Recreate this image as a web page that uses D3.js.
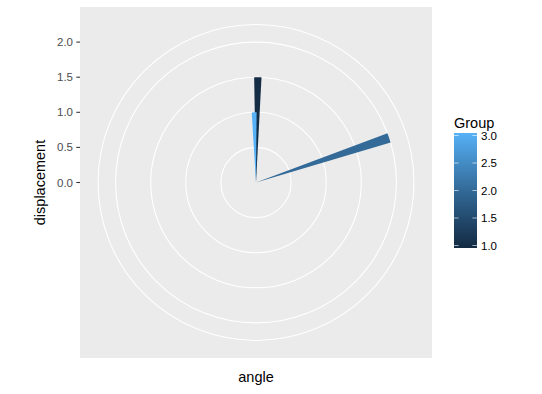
<!DOCTYPE html>
<html>
<head>
<meta charset="utf-8">
<script src="https://cdn.jsdelivr.net/npm/d3@7"></script>
<style>
  body { margin: 0; background: #fff; }
  text { font-family: "Liberation Sans", Arial, sans-serif; }
</style>
</head>
<body>
<script>
// data
const groups = [1, 2, 3]
const angles = [1, 71.5, 358.5]        // degrees, centre of each bar
const displacement = [1.5, 2.0, 1.0]
const BAR_WIDTH = 4                     // degrees
const rTicks = [0, 0.5, 1.0, 1.5, 2.0]
const legendTicks = [1.0, 1.5, 2.0, 2.5, 3.0]

const W = 542, H = 394
const PANEL = { x: 80, y: 7, w: 352, h: 351 }
const size = Math.min(PANEL.w, PANEL.h)
const cx = PANEL.x + PANEL.w / 2, cy = PANEL.y + PANEL.h / 2

let svg = d3.select('body').append('svg')
  .attr('width', W).attr('height', H)

// scales
let theta = d3.scaleLinear().domain([0, 360]).range([0, 2 * Math.PI])
let r = d3.scaleLinear().domain([0, 2]).range([0, 0.4 * size])
let fill = d3.scaleLinear().domain([1, 3]).range(['#132B43', '#56B1F7'])
  .interpolate(d3.interpolateLab)

// panel
svg.append('rect')
  .attr('x', PANEL.x).attr('y', PANEL.y)
  .attr('width', PANEL.w).attr('height', PANEL.h)
  .attr('fill', '#EBEBEB')

let g = svg.append('g').attr('transform', 'translate(' + [cx, cy] + ')')

// radial grid (r breaks + outer ring at 0.45)
let rings = rTicks.map(r).concat([0.45 * size])
g.selectAll('.ring').data(rings).enter().append('circle')
  .attr('class', 'ring')
  .attr('r', d => d)
  .attr('fill', 'none')
  .attr('stroke', '#fff')
  .attr('stroke-width', 1.07)

// bars
let arc = d3.arc()
  .innerRadius(0)
  .outerRadius(i => r(displacement[i]))
  .startAngle(i => theta(angles[i] - BAR_WIDTH / 2))
  .endAngle(i => theta(angles[i] + BAR_WIDTH / 2))

g.selectAll('.bar').data(d3.range(groups.length)).enter().append('path')
  .attr('class', 'bar')
  .attr('d', arc)
  .attr('fill', i => fill(groups[i]))

// r axis on the left
let yAxis = svg.append('g')
yAxis.selectAll('line').data(rTicks).enter().append('line')
  .attr('x1', PANEL.x - 3.7).attr('x2', PANEL.x)
  .attr('y1', d => cy - r(d)).attr('y2', d => cy - r(d))
  .attr('stroke', '#333').attr('stroke-width', 1.07)
yAxis.selectAll('text').data(rTicks).enter().append('text')
  .attr('x', PANEL.x - 7)
  .attr('y', d => cy - r(d))
  .attr('dy', '0.35em')
  .attr('text-anchor', 'end')
  .attr('font-size', 11.5)
  .attr('fill', '#4D4D4D')
  .text(d3.format('.1f'))

// axis titles
svg.append('text')
  .attr('x', cx).attr('y', 382)
  .attr('text-anchor', 'middle')
  .attr('font-size', 14.5)
  .text('angle')
svg.append('text')
  .attr('transform', 'translate(45,' + cy + ') rotate(-90)')
  .attr('text-anchor', 'middle')
  .attr('font-size', 14.5)
  .text('displacement')

// legend
const LEG = { x: 454, y: 133, w: 23, h: 115 }
let defs = svg.append('defs')
let grad = defs.append('linearGradient')
  .attr('id', 'grad').attr('x1', 0).attr('x2', 0).attr('y1', 1).attr('y2', 0)
grad.selectAll('stop').data(d3.range(0, 1.0001, 0.05)).enter().append('stop')
  .attr('offset', d => d)
  .attr('stop-color', d => fill(1 + 2 * d))

svg.append('text')
  .attr('x', LEG.x).attr('y', 128)
  .attr('font-size', 14.5)
  .text('Group')
svg.append('rect')
  .attr('x', LEG.x).attr('y', LEG.y)
  .attr('width', LEG.w).attr('height', LEG.h)
  .attr('fill', 'url(#grad)')

let ly = d3.scaleLinear().domain([1, 3]).range([LEG.y + LEG.h - 2.5, LEG.y + 2.5])
let lt = svg.append('g')
lt.selectAll('.tl').data(legendTicks).enter().append('line')
  .attr('x1', LEG.x).attr('x2', LEG.x + LEG.w / 5)
  .attr('y1', ly).attr('y2', ly)
  .attr('stroke', '#fff').attr('stroke-opacity', 0.6)
lt.selectAll('.tr').data(legendTicks).enter().append('line')
  .attr('x1', LEG.x + LEG.w * 4 / 5).attr('x2', LEG.x + LEG.w)
  .attr('y1', ly).attr('y2', ly)
  .attr('stroke', '#fff').attr('stroke-opacity', 0.6)
lt.selectAll('text').data(legendTicks).enter().append('text')
  .attr('x', LEG.x + LEG.w + 4)
  .attr('y', ly)
  .attr('dy', '0.35em')
  .attr('font-size', 11.5)
  .attr('fill', '#000')
  .text(d3.format('.1f'))
</script>
</body>
</html>
